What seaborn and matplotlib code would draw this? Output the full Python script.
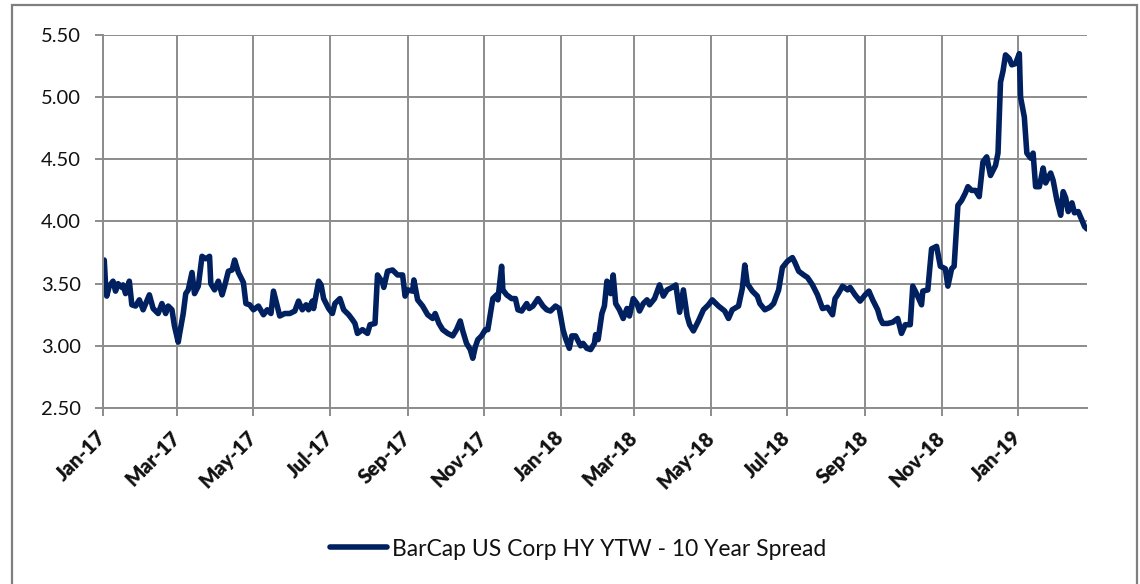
import matplotlib
matplotlib.use("Agg")
import matplotlib.pyplot as plt
from matplotlib.ticker import FormatStrFormatter
from matplotlib.patches import Rectangle
import seaborn as sns
import pandas as pd

series_name = "BarCap US Corp HY YTW - 10 Year Spread"

dates = [
    "2017-01-02", "2017-01-03", "2017-01-04", "2017-01-06", "2017-01-09", "2017-01-11", "2017-01-13", "2017-01-16", "2017-01-17", "2017-01-19",
    "2017-01-22", "2017-01-24", "2017-01-27", "2017-01-30", "2017-02-02", "2017-02-07", "2017-02-10", "2017-02-14", "2017-02-17", "2017-02-20",
    "2017-02-22", "2017-02-25", "2017-02-27", "2017-03-02", "2017-03-03", "2017-03-06", "2017-03-08", "2017-03-10", "2017-03-13", "2017-03-15",
    "2017-03-18", "2017-03-21", "2017-03-24", "2017-03-27", "2017-03-28", "2017-03-31", "2017-04-03", "2017-04-06", "2017-04-08", "2017-04-11",
    "2017-04-14", "2017-04-16", "2017-04-19", "2017-04-23", "2017-04-25", "2017-04-28", "2017-05-01", "2017-05-05", "2017-05-09", "2017-05-12",
    "2017-05-15", "2017-05-17", "2017-05-20", "2017-05-22", "2017-05-26", "2017-05-30", "2017-06-03",
    "2017-06-06", "2017-06-09", "2017-06-12", "2017-06-14", "2017-06-17", "2017-06-18", "2017-06-22", "2017-06-24", "2017-06-26", "2017-06-30",
    "2017-07-03", "2017-07-05", "2017-07-09", "2017-07-12", "2017-07-16", "2017-07-19", "2017-07-21", "2017-07-23", "2017-07-27", "2017-07-31",
    "2017-08-02", "2017-08-06", "2017-08-08", "2017-08-12", "2017-08-13", "2017-08-16", "2017-08-20", "2017-08-24", "2017-08-28", "2017-08-30",
    "2017-09-01", "2017-09-05", "2017-09-06", "2017-09-09", "2017-09-13", "2017-09-17", "2017-09-21", "2017-09-23", "2017-09-26", "2017-09-29",
    "2017-10-03", "2017-10-07", "2017-10-10", "2017-10-13", "2017-10-15", "2017-10-18", "2017-10-21", "2017-10-23", "2017-10-25", "2017-10-27",
    "2017-10-30", "2017-11-02", "2017-11-04",
    "2017-11-08", "2017-11-11", "2017-11-12", "2017-11-15", "2017-11-16", "2017-11-19", "2017-11-23", "2017-11-26", "2017-11-28", "2017-12-01",
    "2017-12-05", "2017-12-07", "2017-12-10", "2017-12-14", "2017-12-18", "2017-12-21", "2017-12-24", "2017-12-28", "2017-12-31",
    "2018-01-03", "2018-01-05", "2018-01-08", "2018-01-10", "2018-01-13", "2018-01-17", "2018-01-19", "2018-01-22", "2018-01-25", "2018-01-28",
    "2018-01-29", "2018-01-31", "2018-02-03", "2018-02-05", "2018-02-07", "2018-02-10", "2018-02-12", "2018-02-14", "2018-02-17", "2018-02-20",
    "2018-02-23", "2018-02-25", "2018-02-28", "2018-03-03", "2018-03-05", "2018-03-08", "2018-03-11", "2018-03-13", "2018-03-17", "2018-03-21",
    "2018-03-24", "2018-03-27", "2018-03-31", "2018-04-03", "2018-04-06", "2018-04-09", "2018-04-12", "2018-04-14", "2018-04-17", "2018-04-21",
    "2018-04-25", "2018-04-29", "2018-05-02", "2018-05-07", "2018-05-12", "2018-05-15", "2018-05-18", "2018-05-23", "2018-05-26", "2018-05-28",
    "2018-05-30", "2018-06-03", "2018-06-07", "2018-06-09", "2018-06-13", "2018-06-17", "2018-06-20", "2018-06-24", "2018-06-27", "2018-07-01",
    "2018-07-05", "2018-07-07", "2018-07-10", "2018-07-14", "2018-07-17", "2018-07-21", "2018-07-25", "2018-07-29", "2018-08-02", "2018-08-06",
    "2018-08-08", "2018-08-10", "2018-08-14", "2018-08-18", "2018-08-20", "2018-08-24", "2018-08-28", "2018-09-01", "2018-09-04", "2018-09-07",
    "2018-09-11", "2018-09-13", "2018-09-15", "2018-09-19", "2018-09-23", "2018-09-27", "2018-09-30", "2018-10-03", "2018-10-07", "2018-10-09",
    "2018-10-12", "2018-10-16", "2018-10-17", "2018-10-21", "2018-10-24", "2018-10-28", "2018-10-31", "2018-11-04", "2018-11-06", "2018-11-09",
    "2018-11-11", "2018-11-14", "2018-11-17", "2018-11-20", "2018-11-22", "2018-11-25", "2018-11-28", "2018-12-01", "2018-12-04", "2018-12-07",
    "2018-12-10", "2018-12-14", "2018-12-16", "2018-12-18", "2018-12-20", "2018-12-22", "2018-12-25", "2018-12-27", "2018-12-30",
    "2019-01-02", "2019-01-03", "2019-01-06", "2019-01-08", "2019-01-11", "2019-01-13", "2019-01-15", "2019-01-18", "2019-01-21", "2019-01-23",
    "2019-01-27", "2019-01-29", "2019-02-01", "2019-02-04", "2019-02-06", "2019-02-08", "2019-02-10", "2019-02-13", "2019-02-15", "2019-02-18",
    "2019-02-21", "2019-02-23", "2019-02-25",
]

values = [
    3.69, 3.50, 3.40, 3.48, 3.52, 3.44, 3.50, 3.47, 3.49, 3.42,
    3.52, 3.33, 3.32, 3.37, 3.29, 3.41, 3.30, 3.26, 3.34, 3.26,
    3.32, 3.29, 3.16, 3.03, 3.09, 3.26, 3.42, 3.45, 3.59, 3.42,
    3.48, 3.72, 3.70, 3.72, 3.50, 3.45, 3.52, 3.41, 3.48, 3.60,
    3.61, 3.69, 3.59, 3.51, 3.34, 3.33, 3.29, 3.32, 3.25, 3.29,
    3.26, 3.44, 3.32, 3.24, 3.26, 3.26, 3.28,
    3.36, 3.29, 3.33, 3.29, 3.36, 3.30, 3.52, 3.49, 3.38, 3.30,
    3.26, 3.34, 3.38, 3.29, 3.25, 3.21, 3.18, 3.10, 3.13, 3.10,
    3.17, 3.18, 3.57, 3.51, 3.47, 3.60, 3.61, 3.57, 3.57, 3.40,
    3.45, 3.44, 3.53, 3.37, 3.32, 3.25, 3.22, 3.26, 3.18, 3.13,
    3.10, 3.08, 3.13, 3.20, 3.12, 3.02, 2.97, 2.90, 2.99, 3.05,
    3.08, 3.13, 3.13,
    3.38, 3.41, 3.37, 3.64, 3.45, 3.41, 3.38, 3.38, 3.29, 3.28,
    3.34, 3.30, 3.32, 3.38, 3.32, 3.29, 3.28, 3.32, 3.30,
    3.13, 3.06, 2.98, 3.08, 3.08, 3.00, 3.02, 2.98, 2.97, 3.02,
    3.09, 3.05, 3.26, 3.32, 3.52, 3.42, 3.57, 3.34, 3.29, 3.22,
    3.30, 3.24, 3.38, 3.34, 3.28, 3.34, 3.37, 3.33, 3.38, 3.49,
    3.40, 3.45, 3.47, 3.49, 3.27, 3.45, 3.24, 3.17, 3.12, 3.20,
    3.29, 3.33, 3.37, 3.32, 3.28, 3.22, 3.29, 3.32, 3.46, 3.65,
    3.50, 3.44, 3.40, 3.34, 3.29, 3.31, 3.34, 3.45, 3.63, 3.68,
    3.71, 3.67, 3.60, 3.57, 3.55, 3.49, 3.41, 3.30, 3.31, 3.25,
    3.38, 3.41, 3.48, 3.45, 3.47, 3.41, 3.36, 3.41, 3.44, 3.37,
    3.29, 3.22, 3.18, 3.18, 3.19, 3.22, 3.10, 3.17, 3.17, 3.48,
    3.42, 3.33, 3.44, 3.45, 3.78, 3.80, 3.64, 3.62, 3.48, 3.62,
    3.64, 4.13, 4.17, 4.23, 4.28, 4.25, 4.25, 4.20, 4.48, 4.52,
    4.37, 4.45, 4.55, 5.12, 5.21, 5.34, 5.31, 5.26, 5.27,
    5.35, 5.00, 4.84, 4.55, 4.51, 4.55, 4.28, 4.28, 4.43, 4.31,
    4.39, 4.33, 4.17, 4.05, 4.24, 4.19, 4.08, 4.15, 4.07, 4.08,
    4.01, 3.96, 3.94,
]

y_ticks = [2.50, 3.00, 3.50, 4.00, 4.50, 5.00, 5.50]
x_tick_dates = ["2017-01-01", "2017-03-01", "2017-05-01", "2017-07-01", "2017-09-01", "2017-11-01",
                "2018-01-01", "2018-03-01", "2018-05-01", "2018-07-01", "2018-09-01", "2018-11-01", "2019-01-01"]
x_tick_labels = ["Jan-17", "Mar-17", "May-17", "Jul-17", "Sep-17", "Nov-17",
                 "Jan-18", "Mar-18", "May-18", "Jul-18", "Sep-18", "Nov-18", "Jan-19"]

sns.set_theme(style="white")
plt.rcParams['font.family'] = ['Lato', 'DejaVu Sans']

GRID = "#8c8c8c"
LINE = "#002060"

df = pd.DataFrame({"date": pd.to_datetime(dates), "value": values})

W, H = 1140, 584
fig = plt.figure(figsize=(W / 100, H / 100), dpi=100)
ax = fig.add_axes([103 / W, 1 - 408 / H, (1087 - 103) / W, (408 - 35) / H])

sns.lineplot(data=df, x="date", y="value", ax=ax, color=LINE, linewidth=4.0,
             label=series_name, solid_joinstyle="round", solid_capstyle="round")

ax.set_xlim(pd.Timestamp("2017-01-01"), pd.Timestamp("2019-02-25"))
ax.set_ylim(2.5, 5.5)
ax.set_yticks(y_ticks)
ax.yaxis.set_major_formatter(FormatStrFormatter('%.2f'))
ax.set_xticks(pd.to_datetime(x_tick_dates))
ax.set_xticklabels(x_tick_labels, rotation=45, ha='right', va='center',
                   rotation_mode='anchor', fontweight='heavy', fontsize=14.5, color="#111111")
for lbl in ax.get_yticklabels():
    lbl.set_fontsize(14.5)
    lbl.set_color("#111111")

ax.set_xlabel("")
ax.set_ylabel("")
ax.grid(True, color=GRID, linewidth=1.4)
ax.set_axisbelow(True)
for s in ["top", "right"]:
    ax.spines[s].set_visible(False)
for s in ["left", "bottom"]:
    ax.spines[s].set_color(GRID)
    ax.spines[s].set_linewidth(1.4)
ax.tick_params(axis='both', direction='out', length=6, width=1.4, color=GRID)
ax.tick_params(axis='y', pad=10, left=True)
ax.tick_params(axis='x', pad=13, bottom=True)

leg = ax.legend(loc='center', bbox_to_anchor=(0.507, 1 - 549 / H), bbox_transform=fig.transFigure,
                frameon=False, fontsize=16.5, handlelength=2.5, handletextpad=0.2)
for t in leg.get_texts():
    t.set_color("#111111")
for h in leg.get_lines():
    h.set_linewidth(4.0)

fig.patches.append(Rectangle((12 / W, -0.02), (1137 - 12) / W, 1 - 5 / H + 0.02,
                             transform=fig.transFigure, fill=False,
                             edgecolor="#7f7f7f", linewidth=1.6))

fig.savefig("out.png", dpi=100)
